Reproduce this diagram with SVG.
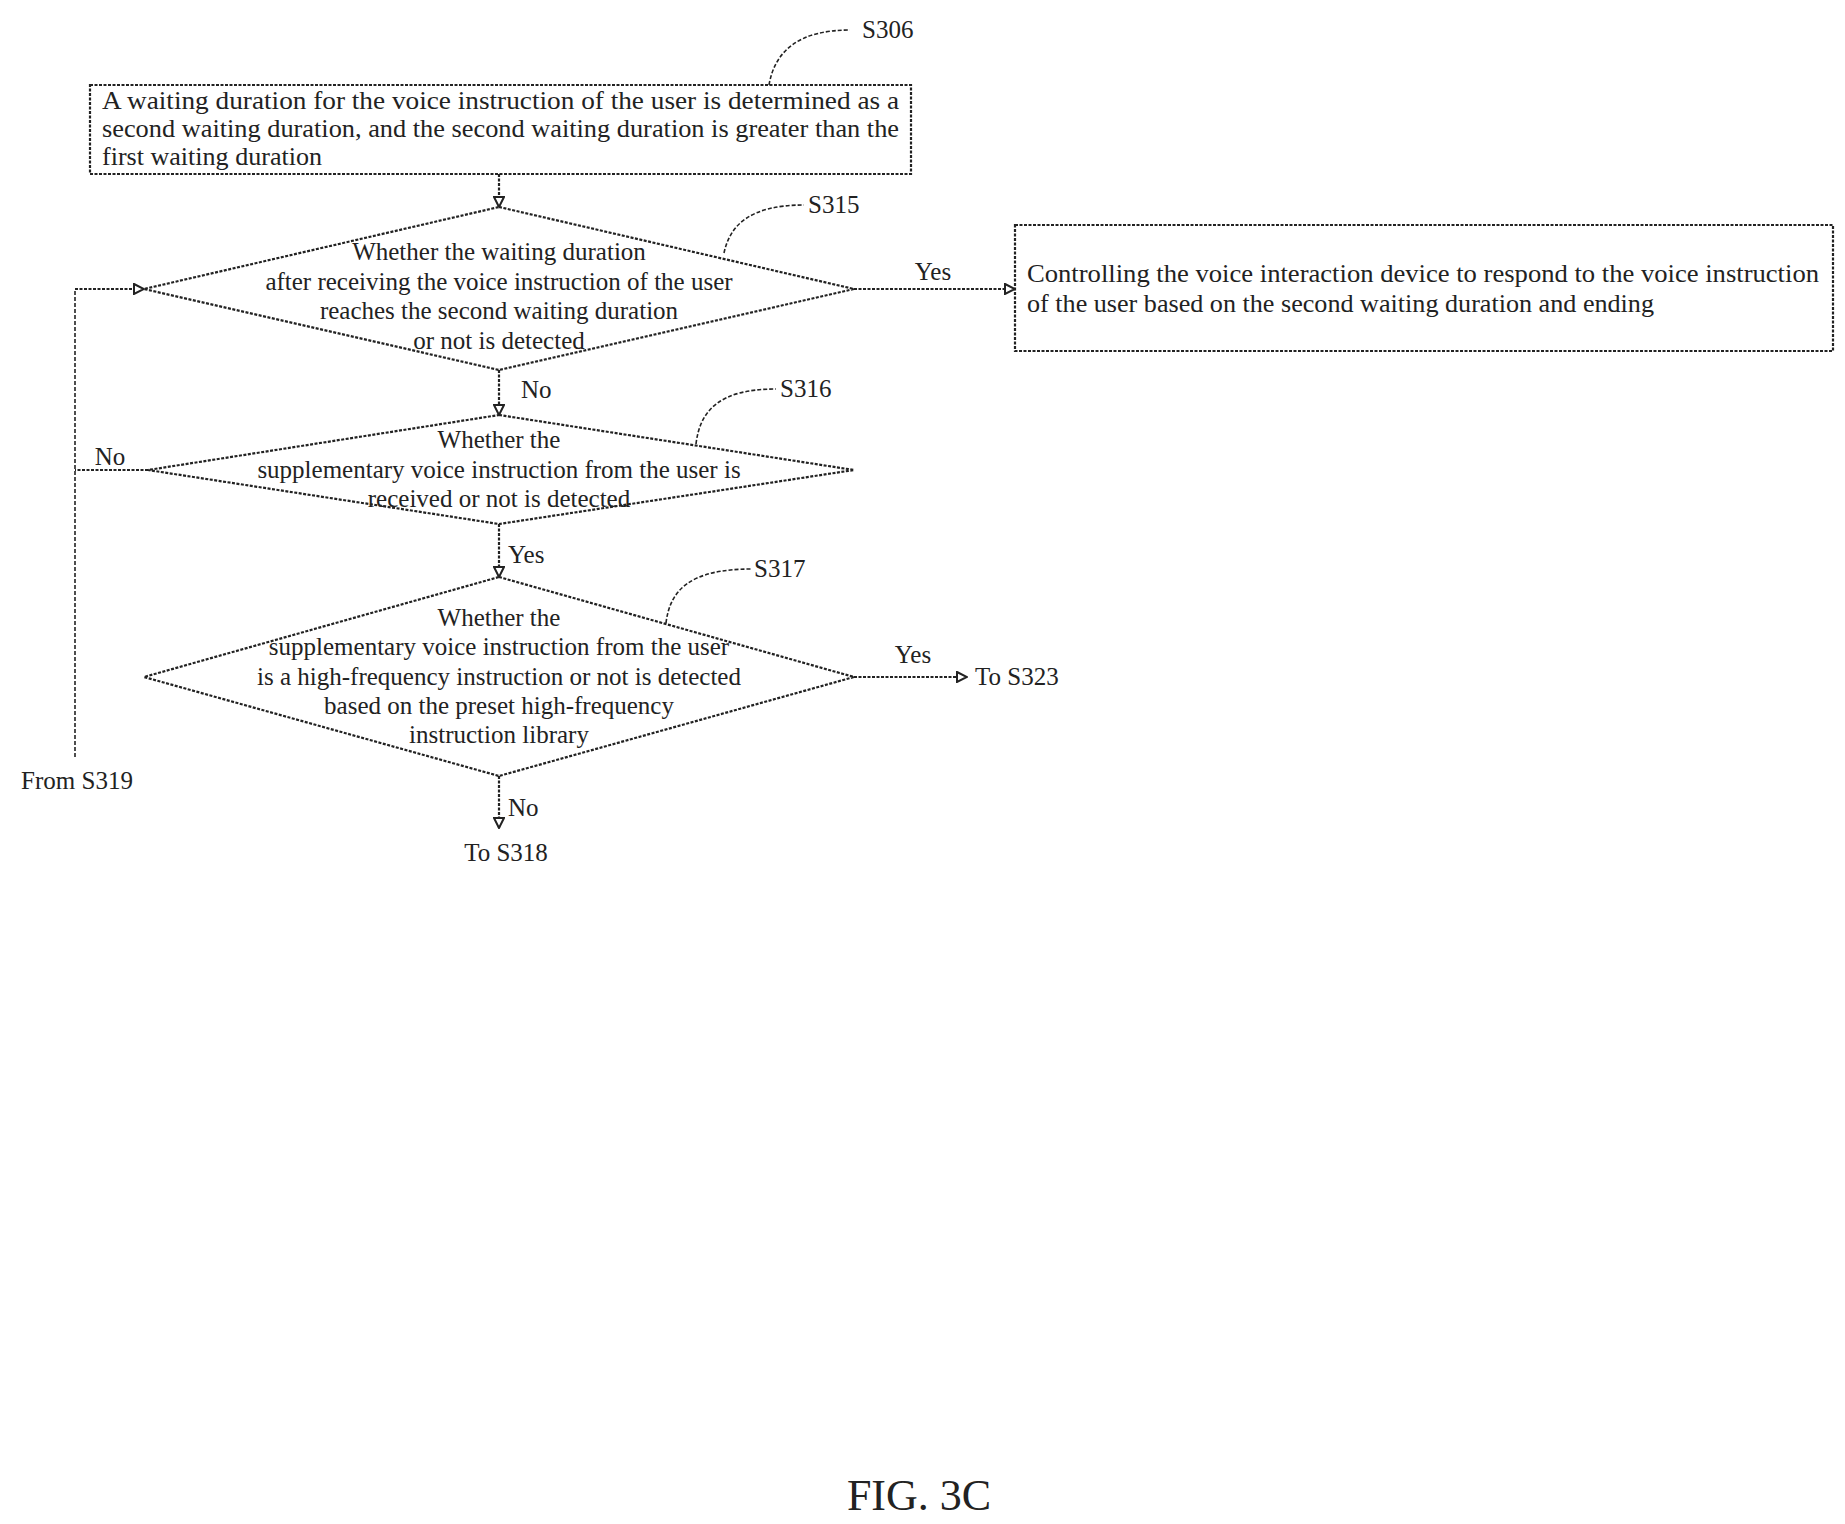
<svg xmlns="http://www.w3.org/2000/svg" width="1845" height="1524" viewBox="0 0 1845 1524">
<style>
text{font-family:"Liberation Serif","Times New Roman",serif;font-size:25px;fill:#222}
.c{text-anchor:middle}
.s{fill:none;stroke:#222;stroke-width:2.2;stroke-dasharray:3 1.5}
.n{fill:#fff;stroke:#222;stroke-width:2.2;stroke-dasharray:3 1.5}
.l{fill:none;stroke:#222;stroke-width:1.6;stroke-dasharray:4 2}
</style>
<defs>
<marker id="a" markerWidth="12" markerHeight="12" refX="11" refY="6" orient="auto" markerUnits="userSpaceOnUse">
<path d="M1,1 L11,6 L1,11 Z" fill="#fff" stroke="#222" stroke-width="2"/>
</marker>
</defs>
<g id="connectors">
<path class="s" d="M499,174 V207" marker-end="url(#a)"/>
<path class="s" d="M854,289 H1015" marker-end="url(#a)"/>
<path class="s" d="M499,370 V415" marker-end="url(#a)"/>
<path class="s" d="M499,524 V577" marker-end="url(#a)"/>
<path class="s" d="M854,677 H967" marker-end="url(#a)"/>
<path class="s" d="M499,776 V828" marker-end="url(#a)"/>
<path class="s" d="M148,470 H75"/>
<path class="l" d="M75,757 V289"/>
<path class="s" d="M75,289 H144" marker-end="url(#a)"/>
<text x="933" y="280" class="c">Yes</text>
<text x="521" y="398">No</text>
<text x="110" y="465" class="c">No</text>
<text x="508" y="563">Yes</text>
<text x="913" y="663" class="c">Yes</text>
<text x="975" y="685">To S323</text>
<text x="508" y="816">No</text>
<text x="506" y="861" class="c">To S318</text>
<text x="77" y="789" class="c">From S319</text>
</g>
<g id="S306">
<rect class="n" x="90" y="85" width="821" height="89"/>
<text x="102" y="109" textLength="797" lengthAdjust="spacingAndGlyphs">A waiting duration for the voice instruction of the user is determined as a</text>
<text x="102" y="137" textLength="797" lengthAdjust="spacingAndGlyphs">second waiting duration, and the second waiting duration is greater than the</text>
<text x="102" y="165" textLength="220" lengthAdjust="spacingAndGlyphs">first waiting duration</text>
<path class="l" d="M769,85 C775,50 800,30 850,30"/>
<text x="862" y="38">S306</text>
</g>
<g id="S315">
<polygon class="n" points="499,207 854,289 499,370 144,289"/>
<text x="499" y="260" class="c">Whether the waiting duration</text>
<text x="499" y="290" class="c">after receiving the voice instruction of the user</text>
<text x="499" y="319" class="c">reaches the second waiting duration</text>
<text x="499" y="349" class="c">or not is detected</text>
<path class="l" d="M724,253 C730,225 750,205 804,205"/>
<text x="808" y="213">S315</text>
</g>
<g id="S323box">
<rect class="n" x="1015" y="225" width="818" height="126"/>
<text x="1027" y="282" textLength="792" lengthAdjust="spacingAndGlyphs">Controlling the voice interaction device to respond to the voice instruction</text>
<text x="1027" y="312" textLength="627" lengthAdjust="spacingAndGlyphs">of the user based on the second waiting duration and ending</text>
</g>
<g id="S316">
<polygon class="n" points="499,415 854,470 499,524 148,470"/>
<text x="499" y="448" class="c">Whether the</text>
<text x="499" y="478" class="c">supplementary voice instruction from the user is</text>
<text x="499" y="507" class="c">received or not is detected</text>
<path class="l" d="M696,444 C700,410 720,389 776,389"/>
<text x="780" y="397">S316</text>
</g>
<g id="S317">
<polygon class="n" points="499,577 854,677 499,776 144,677"/>
<text x="499" y="626" class="c">Whether the</text>
<text x="499" y="655" class="c">supplementary voice instruction from the user</text>
<text x="499" y="685" class="c">is a high-frequency instruction or not is detected</text>
<text x="499" y="714" class="c">based on the preset high-frequency</text>
<text x="499" y="743" class="c">instruction library</text>
<path class="l" d="M666,623 C670,590 690,569 752,569"/>
<text x="754" y="577">S317</text>
</g>
<text x="919" y="1510" class="c" style="font-size:44px">FIG. 3C</text>
</svg>
